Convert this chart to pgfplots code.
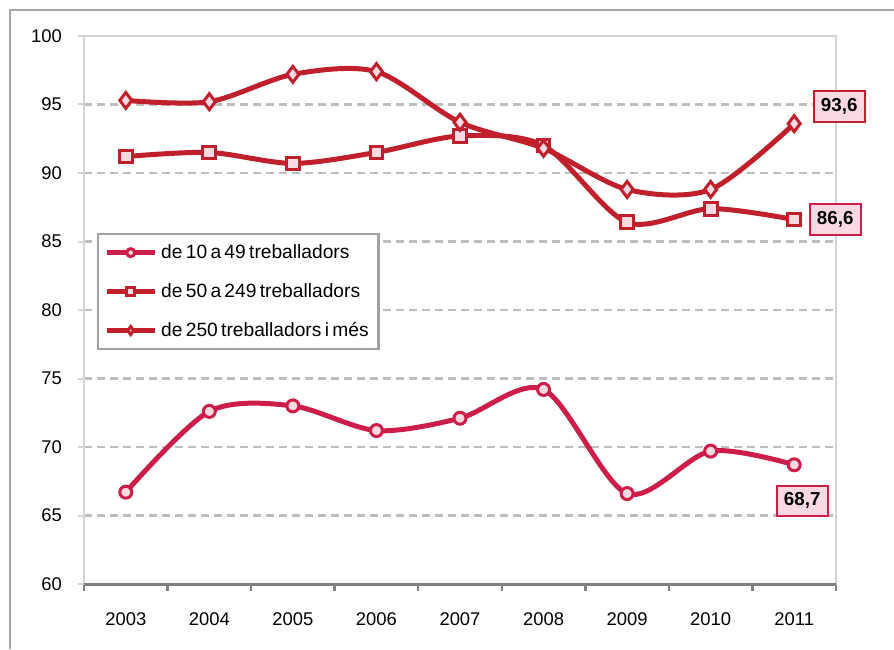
\documentclass[border=0pt]{standalone}
\usepackage{fontspec}
\setmainfont{Liberation Sans}
\newfontfamily\legfont[WordSpace=0.62]{Liberation Sans}
\usepackage{pgfplots}
\pgfplotsset{compat=1.18}
\definecolor{cA}{RGB}{204,30,72}
\definecolor{cB}{RGB}{192,32,44}
\definecolor{mfill}{RGB}{250,218,226}
\definecolor{gridc}{RGB}{190,190,190}
\definecolor{framec}{RGB}{212,212,212}
\definecolor{axc}{RGB}{128,128,128}
\definecolor{outerc}{RGB}{165,165,165}
\definecolor{legc}{RGB}{160,160,160}
\begin{document}
\begin{tikzpicture}
\path[use as bounding box] (-42pt,-32.5pt) rectangle (405pt,292pt);
\draw[outerc, line width=1pt] (-37pt,-32.5pt) -- (-37pt,287pt) -- (405pt,287pt);
\begin{axis}[
  scale only axis, width=376pt, height=274pt,
  clip=false,
  xmin=-0.5, xmax=8.5, ymin=60, ymax=100,
  xtick={0,...,8},
  xticklabels={2003,2004,2005,2006,2007,2008,2009,2010,2011},
  ytick={60,65,...,100},
  minor xtick={-0.5,0.5,...,8.5},
  major x tick style={draw=none},
  minor x tick style={axc, line width=1.2pt},
  minor tick length=3.5pt,
  major tick length=3pt,
  tick align=outside, xtick pos=bottom, ytick pos=left,
  y tick style={framec, line width=1pt},
  ymajorgrids,
  grid style={gridc, dash pattern=on 4pt off 2.5pt, line width=1.2pt},
  axis line style={framec, line width=1.2pt},
  tick label style={font=\fontsize{9.2}{11}\selectfont},
  /pgf/number format/assume math mode=true,
  yticklabel style={xshift=-4.5pt},
  xticklabel style={yshift=-8pt},
  legend style={at={(0.0173,0.6405)}, anchor=north west, draw=legc, line width=1.2pt,
    font=\legfont\fontsize{9.6}{11}\selectfont, row sep=7pt, inner sep=3pt, cells={anchor=west}},
  legend image code/.code={\draw[mark repeat=2,mark phase=2,#1] plot coordinates {(0pt,0pt) (12pt,0pt) (24pt,0pt)};},
  legend image post style={mark size=2pt},
]
\addplot[cA, line width=2.5pt, smooth, mark=*, mark size=3pt,
  mark options={fill=mfill, draw=cA, line width=1.5pt, solid}]
  coordinates {(0,66.7) (1,72.6) (2,73.0) (3,71.2) (4,72.1) (5,74.2) (6,66.6) (7,69.7) (8,68.7)};
\addlegendentry{de 10 a 49 treballadors}
\addplot[cB, line width=2.5pt, smooth, mark=square*, mark size=3.2pt,
  mark options={fill=mfill, draw=cB, line width=1.5pt, solid}]
  coordinates {(0,91.2) (1,91.5) (2,90.7) (3,91.5) (4,92.7) (5,92.0) (6,86.4) (7,87.4) (8,86.6)};
\addlegendentry{de 50 a 249 treballadors}
\addplot[cB, line width=2.5pt, smooth, mark=diamond*, mark size=4pt,
  mark options={fill=mfill, draw=cB, line width=1.5pt, solid}]
  coordinates {(0,95.3) (1,95.2) (2,97.2) (3,97.4) (4,93.7) (5,91.8) (6,88.8) (7,88.8) (8,93.6)};
\addlegendentry{de 250 treballadors i més}
\draw[axc, line width=1.5pt] (rel axis cs:0,0) -- (rel axis cs:1,0);
\node[draw=cB, fill=mfill, line width=1pt, font=\bfseries\fontsize{9.4}{11}\selectfont,
  text height=6.6pt, text depth=1.6pt, inner sep=3.5pt, xshift=22.5pt, yshift=8.5pt] at (axis cs:8,93.6) {93,6};
\node[draw=cA, fill=mfill, line width=1pt, font=\bfseries\fontsize{9.4}{11}\selectfont,
  text height=6.6pt, text depth=1.6pt, inner sep=3.5pt, xshift=20.5pt, yshift=0pt] at (axis cs:8,86.6) {86,6};
\node[draw=cA, fill=mfill, line width=1pt, font=\bfseries\fontsize{9.4}{11}\selectfont,
  text height=6.6pt, text depth=1.6pt, inner sep=3.5pt, xshift=4pt, yshift=-18pt] at (axis cs:8,68.7) {68,7};
\end{axis}
\end{tikzpicture}
\end{document}
